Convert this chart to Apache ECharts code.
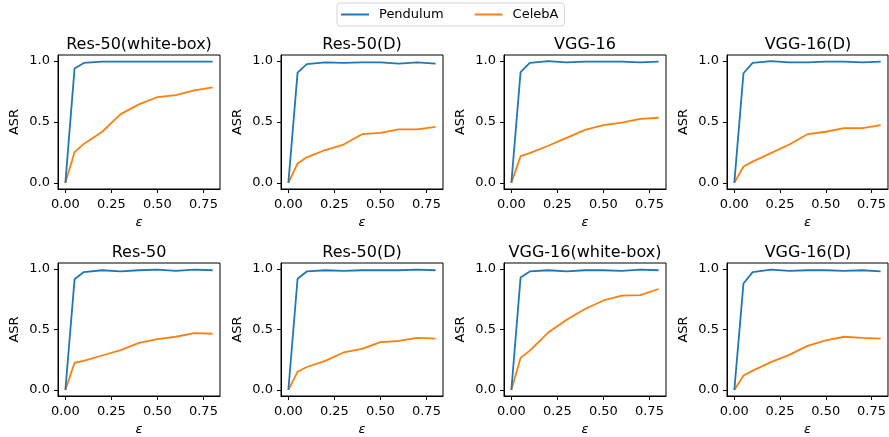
<!DOCTYPE html>
<html>
<head>
<meta charset="utf-8">
<script src="https://cdn.jsdelivr.net/npm/echarts@6/dist/echarts.min.js"></script>
<style>
html,body{margin:0;padding:0;background:#fff;}
#chart{width:889px;height:437px;}
</style>
</head>
<body>
<div id="chart"></div>
<script>
// ---- data ----
const eps = [0, 0.05, 0.1, 0.2, 0.3, 0.4, 0.5, 0.6, 0.7, 0.8];
const titles = ['Res-50(white-box)', 'Res-50(D)', 'VGG-16', 'VGG-16(D)',
                'Res-50', 'Res-50(D)', 'VGG-16(white-box)', 'VGG-16(D)'];
const seriesNames = ['Pendulum', 'CelebA'];
const xTicks = [0, 0.25, 0.5, 0.75];
const yTicks = [0, 0.5, 1.0];

const pendulum1 = [0, 0.94, 0.985, 0.995, 0.995, 0.995, 0.995, 0.995, 0.995, 0.995];
const celeba1   = [0, 0.253, 0.32, 0.42, 0.565, 0.645, 0.705, 0.72, 0.76, 0.785];
const pendulum2 = [0, 0.905, 0.975, 0.99, 0.985, 0.99, 0.99, 0.98, 0.99, 0.98];
const celeba2   = [0, 0.16, 0.21, 0.27, 0.315, 0.40, 0.41, 0.44, 0.44, 0.46];
const pendulum3 = [0, 0.91, 0.985, 1.0, 0.99, 0.995, 0.995, 0.995, 0.99, 0.995];
const celeba3   = [0, 0.22, 0.245, 0.305, 0.37, 0.435, 0.475, 0.495, 0.525, 0.535];
const pendulum4 = [0, 0.90, 0.985, 1.0, 0.99, 0.99, 0.995, 0.995, 0.99, 0.995];
const celeba4   = [0, 0.135, 0.175, 0.245, 0.315, 0.40, 0.42, 0.45, 0.45, 0.475];
const pendulum5 = [0, 0.915, 0.975, 0.99, 0.98, 0.99, 0.995, 0.985, 0.995, 0.99];
const celeba5   = [0, 0.225, 0.24, 0.285, 0.33, 0.39, 0.42, 0.44, 0.47, 0.465];
const pendulum6 = [0, 0.92, 0.98, 0.99, 0.985, 0.99, 0.99, 0.99, 0.995, 0.99];
const celeba6   = [0, 0.15, 0.19, 0.24, 0.31, 0.34, 0.395, 0.405, 0.43, 0.425];
const pendulum7 = [0, 0.93, 0.98, 0.99, 0.98, 0.99, 0.99, 0.985, 0.995, 0.99];
const celeba7   = [0, 0.265, 0.325, 0.475, 0.58, 0.67, 0.74, 0.78, 0.785, 0.835];
const pendulum8 = [0, 0.88, 0.975, 0.995, 0.985, 0.99, 0.99, 0.985, 0.99, 0.98];
const celeba8   = [0, 0.12, 0.16, 0.23, 0.29, 0.365, 0.41, 0.44, 0.43, 0.425];

const pendulumAll = [pendulum1, pendulum2, pendulum3, pendulum4, pendulum5, pendulum6, pendulum7, pendulum8];
const celebaAll = [celeba1, celeba2, celeba3, celeba4, celeba5, celeba6, celeba7, celeba8];

// ---- layout ----
const FONT = 'DejaVu Sans';
const lefts = [58, 281, 504, 727];
const W = 162;
const tops = [55, 263];
const H = 134;
const colors = ['#1f77b4', '#ff7f0e'];

const grids = [], xAxes = [], yAxes = [], series = [], titleArr = [];
for (let i = 0; i < 8; i++) {
  const r = Math.floor(i / 4), c = i % 4;
  grids.push({left: lefts[c], top: tops[r], width: W, height: H, show: true,
              borderColor: '#000', borderWidth: 1, containLabel: false});
  xAxes.push({
    type: 'value', gridIndex: i, min: -0.04, max: 0.84,
    name: 'ε', nameLocation: 'middle', nameGap: 27,
    nameTextStyle: {fontFamily: FONT, fontSize: 13, fontStyle: 'italic', color: '#000'},
    axisLine: {show: true, onZero: false, lineStyle: {color: '#000', width: 1}},
    axisTick: {show: true, inside: false, length: 4, lineStyle: {color: '#000'}, customValues: xTicks},
    axisLabel: {show: true, margin: 9, fontFamily: FONT, fontSize: 13, color: '#000',
                customValues: xTicks, formatter: v => v.toFixed(2)},
    splitLine: {show: false}
  });
  yAxes.push({
    type: 'value', gridIndex: i, min: -0.05, max: 1.05,
    name: 'ASR', nameLocation: 'middle', nameGap: 37, nameRotate: 90,
    nameTextStyle: {fontFamily: FONT, fontSize: 13, color: '#000'},
    axisLine: {show: true, onZero: false, lineStyle: {color: '#000', width: 1}},
    axisTick: {show: true, inside: false, length: 4, lineStyle: {color: '#000'}, customValues: yTicks},
    axisLabel: {show: true, margin: 8, fontFamily: FONT, fontSize: 13, color: '#000',
                customValues: yTicks, formatter: v => v.toFixed(1)},
    splitLine: {show: false}
  });
  titleArr.push({
    text: titles[i], left: lefts[c] + W / 2, top: tops[r] - 18, textAlign: 'center',
    padding: 0,
    textStyle: {fontFamily: FONT, fontSize: 16, fontWeight: 'normal', color: '#000'}
  });
  const sets = [pendulumAll[i], celebaAll[i]];
  for (let s = 0; s < 2; s++) {
    series.push({
      type: 'line', name: seriesNames[s], xAxisIndex: i, yAxisIndex: i,
      data: eps.map((x, k) => [x, sets[s][k]]),
      showSymbol: false, symbol: 'none', animation: false,
      lineStyle: {color: colors[s], width: 1.8}, itemStyle: {color: colors[s]},
      z: s === 0 ? 3 : 2
    });
  }
}

const chart = echarts.init(document.getElementById('chart'), null, {renderer: 'canvas'});
chart.setOption({
  animation: false,
  backgroundColor: '#fff',
  color: colors,
  title: titleArr,
  legend: {
    data: seriesNames, left: 337, top: 3, padding: [5, 6, 5, 4],
    icon: 'rect', itemWidth: 28, itemHeight: 2, itemGap: 31,
    borderColor: '#d5d5d5', borderWidth: 1, borderRadius: 3,
    textStyle: {fontFamily: FONT, fontSize: 13, color: '#000', padding: [0, 0, 0, 5]}
  },
  grid: grids, xAxis: xAxes, yAxis: yAxes, series: series
});
</script>
</body>
</html>
